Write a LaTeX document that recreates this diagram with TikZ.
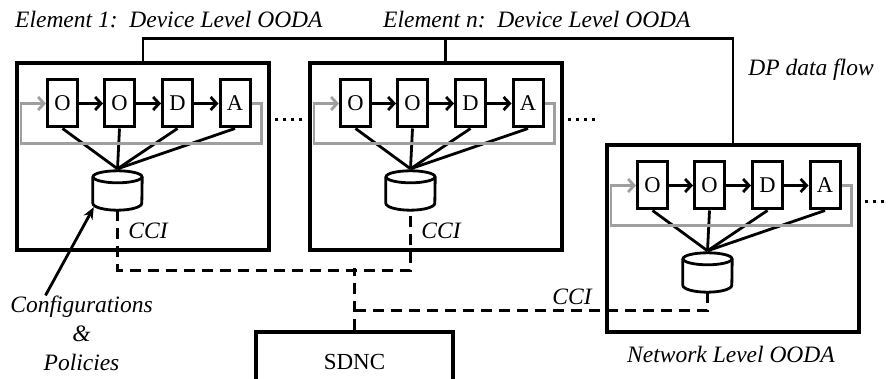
\documentclass[tikz,border=0pt]{standalone}
\usepackage{fontspec}
\setmainfont{Liberation Serif}[ItalicFont={Liberation Serif Italic}]
\usetikzlibrary{arrows.meta,calc}
\tikzset{
  elembox/.style={draw, line width=3.3pt, minimum width=252pt, minimum height=187pt, inner sep=0pt},
  oodabox/.style={draw, line width=3pt, minimum width=30pt, minimum height=47pt,
                  inner sep=0pt, font=\fontsize{22.5}{22.5}\selectfont},
  store/.style={minimum width=49pt, minimum height=39pt, inner sep=0pt},
  wire/.style={line width=2.8pt},
  flow/.style={wire, -{Straight Barb[length=6pt,width=13pt]}},
  feedback/.style={wire, draw=gray!75, -{Straight Barb[length=6pt,width=13pt]}},
  cci/.style={line width=2.8pt, dash pattern=on 11pt off 7pt},
  dots/.style={line width=3pt, dash pattern=on 3pt off 5pt},
  lbl/.style={font=\fontsize{23.5}{29}\selectfont\itshape, inner sep=0pt},
}
\begin{document}
\begin{tikzpicture}[x=1pt,y=-1pt]
  \useasboundingbox (0,0) rectangle (888,379);
  \clip (0,0) rectangle (888,379);
  % device level elements 1 and n, network level element
  \foreach \n/\dx/\dy in {1/0/0,2/293/0,3/590/82}{
    \begin{scope}[shift={(\dx,\dy)}]
      \node[elembox] (elem\n) at (143,156.5) {};
      \node[oodabox] (obs\n) at (62.5,103.5) {O};
      \node[oodabox] (ori\n) at (119.5,103.5) {O};
      \node[oodabox] (dec\n) at (177.5,103.5) {D};
      \node[oodabox] (act\n) at (235,103.5) {A};
      \node[store] (db\n) at (117.5,190.5) {};
      % the store as a cylinder
      \draw[wire] ([yshift=-6pt]db\n.north) ellipse [x radius=24.5pt, y radius=6pt];
      \draw[wire] ([yshift=-6pt]db\n.north west) -- ([yshift=7pt]db\n.south west)
        arc[start angle=180, end angle=360, x radius=24.5pt, y radius=7pt]
        -- ([yshift=-6pt]db\n.north east);
      \draw[flow] (obs\n) -- (ori\n);
      \draw[flow] (ori\n) -- (dec\n);
      \draw[flow] (dec\n) -- (act\n);
      \foreach \s in {obs,ori,dec,act}
        \draw[wire] (\s\n.south) -- ([yshift=2pt]db\n.north);
      % loop back to observe
      \draw[feedback] (act\n.east) -- ++(10,0) -- ++(0,40) -| ([xshift=-25pt]obs\n.west) -- (obs\n.west);
      \draw[dots] ([xshift=4pt,yshift=36.5pt]elem\n.east) -- ++(28,0);
    \end{scope}
  }
  % SDN controller
  \node[draw, line width=3.3pt, minimum width=197pt, minimum height=60pt,
        font=\fontsize{23}{23}\selectfont] (sdnc) at (354.5,362) {SDNC};
  % DP data flow
  \draw[wire] (elem1.north) -- ++(0,-23) -| (elem3.north);
  \draw[wire] ([xshift=9.5pt]elem2.north) -- ++(0,-23);
  % CCI links
  \draw[cci] (db1.south) -- ++(0,60) -| (db2.south);
  \draw[cci] (sdnc.north) -- ++(0,-62);
  \draw[cci] (db3.south) |- ([yshift=20pt]sdnc.north);
  % labels
  \node[lbl, anchor=base west] (title1) at (15,28) {Element 1:\ \ Device Level OODA};
  \node[lbl, anchor=base west] (titlen) at (383,28) {Element n:\ \ Device Level OODA};
  \node[lbl, anchor=base] (dpflow) at (811,76) {DP data flow};
  \node[lbl, anchor=base] (cci1) at (148,239) {CCI};
  \node[lbl, anchor=base] (cci2) at (441,239) {CCI};
  \node[lbl, anchor=base] (cci3) at (572,304) {CCI};
  \node[lbl, anchor=base] (netlvl) at (731,362) {Network Level OODA};
  \node[lbl, align=center] (cfg) at (81.5,333) {Configurations\\\&\\Policies};
  \draw[wire, -{Stealth[length=12pt,width=10pt]}] ([xshift=-36pt]cfg.north) -- ([xshift=1pt,yshift=3pt]db1.south west);
\end{tikzpicture}
\end{document}
